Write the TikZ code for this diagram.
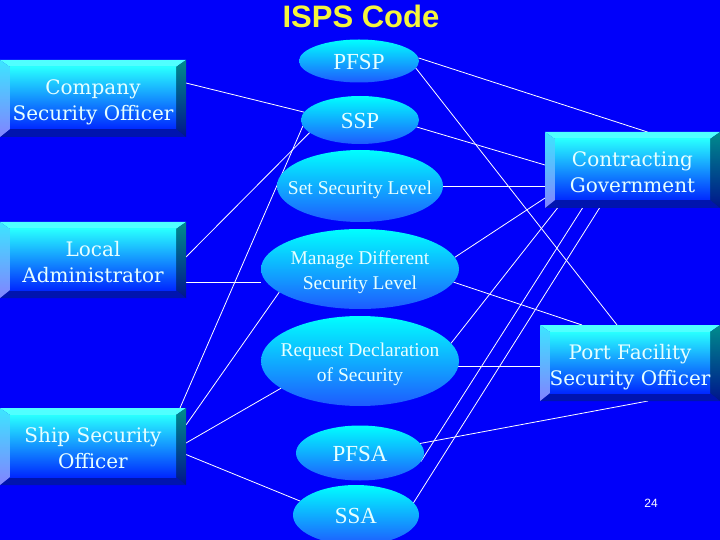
\documentclass[tikz,border=0pt]{standalone}
\usepackage{fontspec}
\setmainfont{Liberation Serif}
\newfontfamily\boxfont{DejaVu Serif}
\newfontfamily\sansf{Liberation Sans}
\usetikzlibrary{shapes.geometric,calc}
\pgfdeclarelayer{back}
\pgfsetlayers{back,main}
\definecolor{bgblue}{RGB}{0,0,250}
\definecolor{facetop}{RGB}{40,255,255}
\definecolor{facebot}{RGB}{0,40,255}
\definecolor{bevtop}{RGB}{80,255,255}
\definecolor{bevltop}{RGB}{60,230,255}
\definecolor{bevlbot}{RGB}{130,130,255}
\definecolor{bevrtop}{RGB}{0,140,140}
\definecolor{bevrbot}{RGB}{0,20,140}
\definecolor{bevbot}{RGB}{0,20,175}
\definecolor{elltop}{RGB}{0,255,255}
\definecolor{ellbot}{RGB}{30,90,255}
\definecolor{txtc}{RGB}{230,255,255}
\definecolor{titley}{RGB}{245,245,60}
\newcommand\ctext[1]{\makebox[0pt]{\raisebox{-0.43em}[0pt][0pt]{\begin{tabular}{@{}c@{}}#1\end{tabular}}}}
\newcommand\btext[1]{\raisebox{-0.45em}[0pt][0pt]{\begin{tabular}{@{}c@{}}#1\end{tabular}}}
\newcommand\bevbox[6]{%
 \fill[bevtop] (#2,#3) -- (#4,#3) -- (#4-10,#3+7) -- (#2+10,#3+7) -- cycle;
 \fill[bevbot] (#2,#5) -- (#4,#5) -- (#4-10,#5-8) -- (#2+10,#5-8) -- cycle;
 \shade[top color=bevltop,bottom color=bevlbot] (#2,#3) -- (#2+10,#3+7) -- (#2+10,#5-8) -- (#2,#5) -- cycle;
 \shade[top color=bevrtop,bottom color=bevrbot] (#4,#3) -- (#4-10,#3+7) -- (#4-10,#5-8) -- (#4,#5) -- cycle;
 \shade[top color=facetop,bottom color=facebot] (#2+10,#3+7) rectangle (#4-10,#5-8);
 \node[boxtext,minimum width={(#4-(#2))*1pt},minimum height={(#5-(#3))*1pt}] (#1) at ({(#2+#4)/2},{(#3+#5)/2}) {\btext{#6}};
}
\tikzset{
 boxtext/.style={rectangle,inner sep=0pt,outer sep=0pt,text=txtc,
   font=\boxfont\fontsize{20}{26}\selectfont},
 ell/.style={ellipse,inner sep=0pt,outer sep=0pt,top color=elltop,bottom color=ellbot,
   text=txtc,font=\fontsize{19.5}{24.5}\selectfont},
 bigell/.style={ell,font=\fontsize{23}{26}\selectfont},
 conn/.style={draw=white,line width=0.8pt},
}
\begin{document}
\begin{tikzpicture}[x=1pt,y=-1pt]
\useasboundingbox (0,0) rectangle (720,540);
\begin{pgfonlayer}{back}
\fill[bgblue] (0,0) rectangle (720,540);
\end{pgfonlayer}
\node[font=\sansf\bfseries\fontsize{31}{33}\selectfont,text=titley] (title) at (361,16) {ISPS Code};
\bevbox{cso}{0}{60}{186}{137}{Company\\Security Officer}
\bevbox{la}{0}{222}{186}{298}{Local\\Administrator}
\bevbox{sso}{0}{408}{186}{485}{Ship Security\\Officer}
\bevbox{cg}{545}{132}{720}{208}{Contracting\\Government}
\bevbox{pfso}{540}{325}{720}{401}{Port Facility\\Security Officer}
\node[bigell,minimum width=120pt,minimum height=43pt] (pfsp) at (359,61) {\ctext{PFSP}};
\node[bigell,minimum width=118pt,minimum height=48pt] (ssp) at (360,120) {\ctext{SSP}};
\node[ell,minimum width=166pt,minimum height=72pt] (ssl) at (360,186) {\ctext{Set Security Level}};
\node[ell,minimum width=198pt,minimum height=80pt] (mdsl) at (360,269) {\ctext{Manage Different\\Security Level}};
\node[ell,minimum width=198pt,minimum height=90pt] (rdos) at (360,361) {\ctext{Request Declaration\\of Security}};
\node[bigell,minimum width=128pt,minimum height=55pt] (pfsa) at (360,453) {\ctext{PFSA}};
\node[bigell,minimum width=126pt,minimum height=60pt] (ssa) at (356,515) {\ctext{SSA}};
\node[font=\sansf\fontsize{12}{14}\selectfont,text=white] (pg) at (651,503) {24};
\coordinate (lam) at ([yshift=-22pt]la.east);
\coordinate (rdr) at (rdos.-3);
\begin{pgfonlayer}{back}
\draw[conn] ([yshift=15.5pt]cso.east) -- (ssp.172);
\draw[conn] (pfsp.3) -- ([xshift=15pt]cg.north);
\draw[conn] (pfsp.-7) -- ([xshift=-13pt]pfso.north);
\draw[conn] (ssp.-7) -- ([yshift=5pt]cg.west);
\draw[conn] (ssl.east) -- ([yshift=-16pt]cg.west);
\draw[conn] (mdsl.7) -- ([yshift=-28pt]cg.west);
\draw[conn] (mdsl.-8) -- ([xshift=-48pt]pfso.north);
\draw[conn] (rdr) -- (rdr -| pfso.west);
\draw[conn] (pfsa.9) -- ([xshift=18pt]pfso.south);
\draw[conn] (rdos.11) -- ([xshift=-75pt]cg.south);
\draw[conn] (pfsa.-8) -- ([xshift=-50pt]cg.south);
\draw[conn] (ssa.12) -- ([xshift=-33pt]cg.south);
\draw[conn] ([yshift=3pt]la.east) -- (ssp.194);
\draw[conn] ([xshift=-6pt]sso.north east) -- (ssp.186);
\draw[conn] (lam) -- (lam -| mdsl.west);
\draw[conn] ([yshift=21.5pt]sso.east) -- (mdsl.196);
\draw[conn] ([yshift=3.5pt]sso.east) -- (rdos.199);
\draw[conn] ([yshift=-8pt]sso.east) -- (ssa.166);
\end{pgfonlayer}
\end{tikzpicture}
\end{document}
